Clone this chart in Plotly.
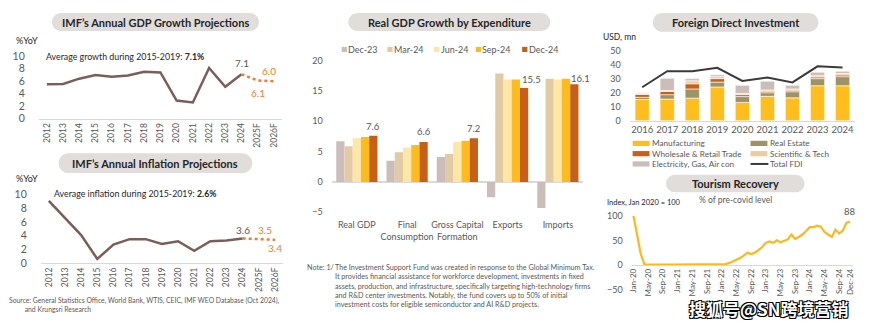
import numpy as np
import pandas as pd
import plotly.graph_objects as go

W, H = 870, 333


def px(x):
    return x / W


def py(y):
    return 1 - y / H


FONT = "Lato"
DARK = "#262626"
GREY_TXT = "#595959"
ORANGE = "#ED7D31"
BROWN = "#7B5E57"
AXIS = "#D9D9D9"
PILL = "#E0DDDB"

# ---------------- data ----------------
years = ["2012", "2013", "2014", "2015", "2016", "2017", "2018", "2019",
         "2020", "2021", "2022", "2023", "2024", "2025F", "2026F"]
gdp_growth = [5.5, 5.55, 6.4, 7.0, 6.7, 6.9, 7.5, 7.4, 2.9, 2.6, 8.1, 5.1, 7.1, 6.1, 6.0]
inflation = [9.1, 6.6, 4.1, 0.6, 2.7, 3.5, 3.5, 2.8, 3.2, 1.8, 3.2, 3.3, 3.6, 3.5, 3.4]
n_actual = 13  # 2012-2024 are outturns, the rest are IMF forecasts

exp_categories = ["Real GDP", "Final<br>Consumption", "Gross Capital<br>Formation", "Exports", "Imports"]
exp_periods = ["Dec-23", "Mar-24", "Jun-24", "Sep-24", "Dec-24"]
exp_dec23 = [6.7, 3.5, 4.1, -2.5, -4.3]
exp_mar24 = [5.9, 4.9, 4.6, 17.9, 17.0]
exp_jun24 = [7.2, 5.7, 6.6, 16.9, 16.9]
exp_sep24 = [7.4, 6.1, 6.8, 16.9, 17.0]
exp_dec24 = [7.6, 6.6, 7.2, 15.5, 16.1]
exp_colors = ["#CBBDBA", "#E2CBA4", "#FDE6A8", "#FDBB1F", "#C65F1A"]

fdi_years = ["2016", "2017", "2018", "2019", "2020", "2021", "2022", "2023", "2024"]
fdi_manufacturing = [15.2, 15.5, 16.2, 24.2, 13.1, 17.5, 16.4, 25.1, 25.1]
fdi_real_estate = [1.6, 3.2, 6.6, 3.5, 4.2, 2.6, 4.4, 5.1, 6.5]
fdi_wholesale = [2.1, 2.3, 3.7, 2.5, 1.4, 1.1, 1.1, 1.2, 1.2]
fdi_sci_tech = [0.7, 0.7, 2.1, 1.6, 0.9, 0.9, 0.9, 0.9, 1.1]
fdi_electricity = [0.4, 8.7, 1.6, 1.2, 5.8, 6.3, 2.6, 2.5, 1.6]
fdi_total = [24.0, 35.5, 35.5, 38.0, 28.5, 31.0, 27.5, 39.0, 38.2]
fdi_names = ["Manufacturing", "Real Estate", "Wholesale & Retail Trade",
             "Scientific & Tech", "Electricity, Gas, Air con"]
fdi_colors = ["#FFBE1E", "#9C9467", "#C8601A", "#EBCDA0", "#CBBDBA"]

tourism_months = pd.date_range("2020-01-01", "2024-12-01", freq="MS").strftime("%b-%y").tolist()
tourism_index = [
    100, 62, 22, 0.5, 0.3, 0.3, 0.3, 0.3, 0.3, 0.4, 0.4, 0.5,
    0.6, 0.4, 0.4, 0.4, 0.3, 0.2, 0.2, 0.2, 0.2, 0.3, 0.4, 0.6,
    0.8, 1.5, 3.5, 7, 10, 14, 19, 25, 22, 25, 30, 36,
    45, 48, 45, 50, 46, 49, 52, 62, 53, 57, 62, 69,
    77, 77, 80, 78, 67, 62, 57, 72, 64, 70, 86, 88,
]
tourism_tick_idx = list(range(0, 60, 4)) + [59]

fig = go.Figure()

# ---------------- panel 1: GDP growth ----------------
fig.add_trace(go.Scatter(x=years[:n_actual], y=gdp_growth[:n_actual], mode="lines",
                         line=dict(color=BROWN, width=2.5), xaxis="x", yaxis="y"))
fig.add_trace(go.Scatter(x=years[n_actual - 1:], y=gdp_growth[n_actual - 1:], mode="lines",
                         line=dict(color=ORANGE, width=2.5, dash="dot"), xaxis="x", yaxis="y"))

# ---------------- panel 2: inflation ----------------
fig.add_trace(go.Scatter(x=years[:n_actual], y=inflation[:n_actual], mode="lines",
                         line=dict(color=BROWN, width=2.5), xaxis="x2", yaxis="y2"))
fig.add_trace(go.Scatter(x=years[n_actual - 1:], y=inflation[n_actual - 1:], mode="lines",
                         line=dict(color=ORANGE, width=2.5, dash="dot"), xaxis="x2", yaxis="y2"))

# ---------------- panel 3: real GDP by expenditure ----------------
exp_series = [exp_dec23, exp_mar24, exp_jun24, exp_sep24, exp_dec24]
slot = 0.164
for i, (name, vals, col) in enumerate(zip(exp_periods, exp_series, exp_colors)):
    fig.add_trace(go.Bar(x=exp_categories, y=vals, name=name, marker=dict(color=col, line=dict(width=0)),
                         width=slot, offset=-2.5 * slot + i * slot, xaxis="x3", yaxis="y3"))

# ---------------- panel 4: FDI ----------------
fdi_series = [fdi_manufacturing, fdi_real_estate, fdi_wholesale, fdi_sci_tech, fdi_electricity]
base = np.zeros(len(fdi_years))
for name, vals, col in zip(fdi_names, fdi_series, fdi_colors):
    fig.add_trace(go.Bar(x=fdi_years, y=vals, base=base.copy(), name=name,
                         marker=dict(color=col, line=dict(color="white", width=0.6)),
                         width=0.57, offset=-0.285, xaxis="x4", yaxis="y4"))
    base = base + np.array(vals)
fig.add_trace(go.Scatter(x=fdi_years, y=fdi_total, mode="lines", name="Total FDI",
                         line=dict(color="#3A3A3A", width=2), xaxis="x4", yaxis="y4"))

# ---------------- panel 5: tourism ----------------
fig.add_trace(go.Scatter(x=list(range(len(tourism_index))), y=tourism_index, mode="lines",
                         line=dict(color="#FFB81C", width=2.2), xaxis="x5", yaxis="y5"))

# ---------------- axes ----------------
tick_common = dict(showgrid=False, zeroline=False, ticks="", color=GREY_TXT)
fig.update_layout(
    xaxis=dict(domain=[px(35), px(280)], anchor="y", type="category", range=[-0.5, 14.5],
               tickangle=-90, tickfont=dict(size=8.5), showline=True, linecolor=AXIS, **tick_common),
    yaxis=dict(domain=[py(117), py(52)], anchor="x", range=[0, 10], dtick=2,
               tickfont=dict(size=10.5), ticklabelstandoff=13, **tick_common),
    xaxis2=dict(domain=[px(37), px(281)], anchor="y2", type="category", range=[-0.5, 14.5],
                tickangle=-90, tickfont=dict(size=8.5), showline=True, linecolor=AXIS, **tick_common),
    yaxis2=dict(domain=[py(266.7), py(195.7)], anchor="x2", range=[0, 10], dtick=2,
                tickfont=dict(size=10.5), ticklabelstandoff=13, **tick_common),
    xaxis3=dict(domain=[px(330), px(583)], anchor="y3", type="category", range=[-0.5, 4.5],
                tickangle=0, tickfont=dict(size=9), ticklabelstandoff=6, **tick_common),
    yaxis3=dict(domain=[py(214), py(56.7)], anchor="x3", range=[-5, 20], dtick=5,
                tickfont=dict(size=9), ticklabelstandoff=8, showgrid=False, ticks="",
                color=GREY_TXT, zeroline=True, zerolinecolor=AXIS, zerolinewidth=1.5),
    xaxis4=dict(domain=[px(630), px(857)], anchor="y4", type="category", range=[-0.5, 8.5],
                tickfont=dict(size=9.5), showline=True, linecolor=AXIS, **tick_common),
    yaxis4=dict(domain=[py(119), py(46.7)], anchor="x4", range=[0, 50], dtick=10,
                tickfont=dict(size=9), ticklabelstandoff=8, **tick_common),
    xaxis5=dict(domain=[px(632), px(855)], anchor="free", position=py(268.3), range=[-0.5, 59.8],
                tickvals=tourism_tick_idx, ticktext=[tourism_months[i] for i in tourism_tick_idx],
                tickangle=-90, tickfont=dict(size=8), showline=True, linecolor=AXIS, **tick_common),
    yaxis5=dict(domain=[py(294), py(215.2)], anchor="x5", range=[-50, 105],
                tickvals=[-50, 0, 50, 100], tickfont=dict(size=9), ticklabelstandoff=8, **tick_common),
)


# ---------------- titles (rounded pills) ----------------
def pill_path(x0, x1, y0, y1):
    r = (y1 - y0) / 2
    k = 0.5523 * r
    ym = (y0 + y1) / 2
    pts = [
        ("M", [(x0 + r, y0)]),
        ("L", [(x1 - r, y0)]),
        ("C", [(x1 - r + k, y0), (x1, ym - k), (x1, ym)]),
        ("C", [(x1, ym + k), (x1 - r + k, y1), (x1 - r, y1)]),
        ("L", [(x0 + r, y1)]),
        ("C", [(x0 + r - k, y1), (x0, ym + k), (x0, ym)]),
        ("C", [(x0, ym - k), (x0 + r - k, y0), (x0 + r, y0)]),
    ]
    out = []
    for cmd, ps in pts:
        out.append(cmd + " ".join(f"{px(a):.5f},{py(b):.5f}" for a, b in ps))
    return " ".join(out) + " Z"


shapes = []
annotations = []


def txt(x, y, text, size=9, color=DARK, anchor="left", bold=False, family=FONT, valign="middle", **kw):
    annotations.append(dict(x=px(x), y=py(y), xref="paper", yref="paper", text=text,
                            showarrow=False, xanchor=anchor, yanchor=valign, borderpad=0, borderwidth=0,
                            font=dict(size=size, color=color, family=family,
                                      weight="bold" if bold else "normal"), **kw))


titles = [
    ("IMF’s Annual GDP Growth Projections", 48.3, 256.7, 7.3, 26.0),
    ("IMF’s Annual Inflation Projections", 55.0, 250.0, 152.7, 173.3),
    ("Real GDP Growth by Expenditure", 346.7, 550.0, 7.3, 26.0),
    ("Foreign Direct Investment", 653.3, 820.0, 7.3, 26.7),
    ("Tourism Recovery", 666.7, 806.0, 175.0, 193.3),
]
for t, x0, x1, y0, y1 in titles:
    shapes.append(dict(type="path", xref="paper", yref="paper", path=pill_path(x0, x1, y0, y1),
                       fillcolor=PILL, line=dict(width=0), layer="below"))
    txt((x0 + x1) / 2, (y0 + y1) / 2 + 0.5, t, size=11, anchor="center", bold=True)

# ---------------- panel 1 & 2 texts ----------------
txt(12, 36, "%YoY", size=9, color=DARK)
txt(42, 52, "Average growth during 2015-2019: <b>7.1%</b>", size=8.8)
txt(12, 178.5, "%YoY", size=9, color=DARK)
txt(50, 195, "Average inflation during 2015-2019: <b>2.6%</b>", size=8.8)


def point_label(axis, idx, val, color, xshift=0, yshift=0, size=10):
    # category axes take the position index of the category
    annotations.append(dict(x=idx, y=val, xref=axis, yref=axis.replace("x", "y"),
                            text=f"{val:.1f}", showarrow=False, xshift=xshift, yshift=yshift,
                            font=dict(size=size, color=color, family=FONT)))


point_label("x", 12, gdp_growth[12], GREY_TXT, yshift=11)
point_label("x", 13, gdp_growth[13], ORANGE, yshift=-12)
point_label("x", 14, gdp_growth[14], ORANGE, xshift=-5, yshift=10)
point_label("x2", 12, inflation[12], GREY_TXT, yshift=8)
point_label("x2", 13, inflation[13], ORANGE, xshift=6, yshift=9)
point_label("x2", 14, inflation[14], ORANGE, yshift=-8)

txt(5, 301, "Source: General Statistics Office, World Bank, WTIS, CEIC, IMF WEO Database (Oct 2024),"
    "<br>         and Krungsri Research", size=6.8, color=GREY_TXT, valign="top", align="left")

# ---------------- panel 3 texts ----------------
dec24_xshift = [0, 0, 0, 7, 6]
dec24_yshift = [9, 10, 10, 8, 6]
for i, (v, xs, ys) in enumerate(zip(exp_dec24, dec24_xshift, dec24_yshift)):
    annotations.append(dict(x=i, y=v, xref="x3", yref="y3", text=f"{v:.1f}", showarrow=False,
                            xshift=2 * 8.3 + xs, yshift=ys,
                            font=dict(size=9.5, color=GREY_TXT, family=FONT)))

legend3_x = [340, 386, 433, 475, 521.7]
for x, name, col in zip(legend3_x, exp_periods, exp_colors):
    shapes.append(dict(type="rect", xref="paper", yref="paper", x0=px(x), x1=px(x + 5.3),
                       y0=py(47.7), y1=py(42.4), fillcolor=col, line=dict(width=0)))
    txt(x + 6.7, 45, name, size=9, color=GREY_TXT)

note_lines = [
    "The Investment Support Fund was created in response to the Global Minimum Tax.",
    "It provides financial assistance for workforce development, investments in fixed",
    "assets, production, and infrastructure, specifically targeting high-technology firms",
    "and R&D center investments. Notably, the fund covers up to 50% of initial",
    "investment costs for eligible semiconductor and AI R&D projects.",
]
txt(305, 266.5, "Note: 1/", size=7.2, color=GREY_TXT, valign="top")
txt(333.3, 266.5, "<br>".join(note_lines), size=7.2, color=GREY_TXT, valign="top", align="left")

# ---------------- panel 4 texts & legend ----------------
txt(603, 32, "USD, mn", size=8.5, color=DARK)
leg_font = 8.2
leg_step = leg_font * 1.3
leg_top = 137.2
legend_cols = [
    (633, [(fdi_names[0], fdi_colors[0], "box"), (fdi_names[2], fdi_colors[2], "box"),
           (fdi_names[4], fdi_colors[4], "box")]),
    (751.7, [(fdi_names[1], fdi_colors[1], "box"), (fdi_names[3], fdi_colors[3], "box"),
             ("Total FDI", "#3A3A3A", "line")]),
]
for x, items in legend_cols:
    for r, (name, col, kind) in enumerate(items):
        yc = leg_top + leg_step * (r + 0.5)
        if kind == "box":
            shapes.append(dict(type="rect", xref="paper", yref="paper", x0=px(x), x1=px(x + 17),
                               y0=py(yc + 2.7), y1=py(yc - 2.7), fillcolor=col, line=dict(width=0)))
        else:
            shapes.append(dict(type="line", xref="paper", yref="paper", x0=px(x), x1=px(x + 18),
                               y0=py(yc), y1=py(yc), line=dict(color=col, width=2)))
    txt(x + 20, leg_top, "<br>".join(n for n, _, _ in items), size=leg_font, color=GREY_TXT,
        valign="top", align="left")

# ---------------- panel 5 texts ----------------
txt(736.7, 201.7, "% of pre-covid level", size=8.5, color=GREY_TXT, anchor="center")
txt(607, 204.3, "Index, Jan 2020 = 100", size=7.5, color=DARK)
annotations.append(dict(x=len(tourism_index) - 1, y=tourism_index[-1], xref="x5", yref="y5",
                        text=f"{tourism_index[-1]:.0f}", showarrow=False, yshift=10,
                        font=dict(size=9.5, color=GREY_TXT, family=FONT)))

# channel watermark
annotations.append(dict(x=px(770), y=py(314), xref="paper", yref="paper", text="搜狐号@SN跨境营销",
                        showarrow=False, xanchor="center", yanchor="middle",
                        font=dict(size=17, color="white", family="Noto Sans CJK SC", weight="bold",
                                  shadow="1px 1px 0 #000, -1px -1px 0 #000, 1px -1px 0 #000, -1px 1px 0 #000")))

fig.update_layout(
    width=W, height=H, margin=dict(l=0, r=0, t=0, b=0),
    paper_bgcolor="white", plot_bgcolor="white",
    showlegend=False, barmode="overlay",
    font=dict(family=FONT, color=GREY_TXT),
    shapes=shapes, annotations=annotations,
)

fig.write_html("out.html")
